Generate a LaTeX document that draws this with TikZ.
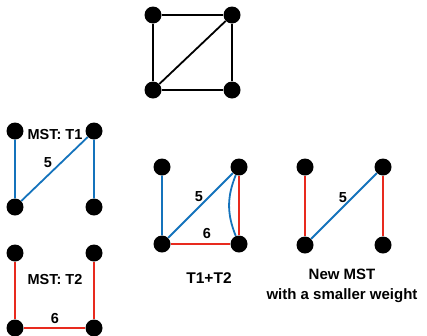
\documentclass[tikz,border=0pt]{standalone}
\usepackage{fontspec}
\setmainfont{Liberation Sans}
\definecolor{treeblue}{RGB}{20,115,188}
\definecolor{treered}{RGB}{232,42,30}
\begin{document}
\begin{tikzpicture}[x=1pt,y=-1pt,
  vtx/.style={circle,fill=black,inner sep=0pt,minimum size=17pt},
  plain/.style={line width=1.8pt,black},
  blueedge/.style={line width=1.8pt,treeblue},
  rededge/.style={line width=1.8pt,treered},
  lbl/.style={font=\bfseries\fontsize{14.5}{16}\selectfont,inner sep=0pt},
  bigl/.style={font=\bfseries\fontsize{15.5}{18}\selectfont,inner sep=0pt},
  capt/.style={font=\bfseries\fontsize{15}{19.5}\selectfont,align=center,inner sep=0pt}]
\useasboundingbox (0,0) rectangle (427,335);

% full graph
\node[vtx] (g1) at (153,15) {};
\node[vtx] (g2) at (232,15) {};
\node[vtx] (g3) at (153,90) {};
\node[vtx] (g4) at (232,90) {};
\draw[plain] (g1) -- (g2) -- (g4) -- (g3) -- (g1);
\draw[plain] (g3) -- (g2);

% tree T1
\node[vtx] (a1) at (15,131) {};
\node[vtx] (a2) at (94,131) {};
\node[vtx] (a3) at (15,207) {};
\node[vtx] (a4) at (94,207) {};
\draw[blueedge] (a1) -- (a3) -- (a2) -- (a4);
\node[lbl] (a5) at (48,163) {5};
\node[lbl] (at) at (55,135) {MST: T1};

% tree T2
\node[vtx] (b1) at (15,253) {};
\node[vtx] (b2) at (94,253) {};
\node[vtx] (b3) at (15,328) {};
\node[vtx] (b4) at (94,328) {};
\draw[rededge] (b1) -- (b3) -- (b4) -- (b2);
\node[lbl] (b6) at (55,318) {6};
\node[lbl] (bt) at (55,280) {MST: T2};

% union T1+T2
\node[vtx] (c1) at (162,167) {};
\node[vtx] (c2) at (239,167) {};
\node[vtx] (c3) at (162,244) {};
\node[vtx] (c4) at (239,244) {};
\draw[blueedge] (c1) -- (c3) -- (c2);
\draw[blueedge] (c2) to[bend right=22] (c4);
\draw[rededge] (c3) -- (c4) -- (c2);
\node[lbl] (c5) at (199,197) {5};
\node[lbl] (c6) at (207,234) {6};
\node[bigl] (ct) at (209,278) {T1+T2};

% new tree
\node[vtx] (d1) at (305,167) {};
\node[vtx] (d2) at (383,167) {};
\node[vtx] (d3) at (305,245) {};
\node[vtx] (d4) at (383,245) {};
\draw[rededge] (d1) -- (d3);
\draw[rededge] (d2) -- (d4);
\draw[blueedge] (d3) -- (d2);
\node[lbl] (d5) at (343,198) {5};
\node[capt] (dt) at (342,286) {New MST\\with a smaller weight};
\end{tikzpicture}
\end{document}
